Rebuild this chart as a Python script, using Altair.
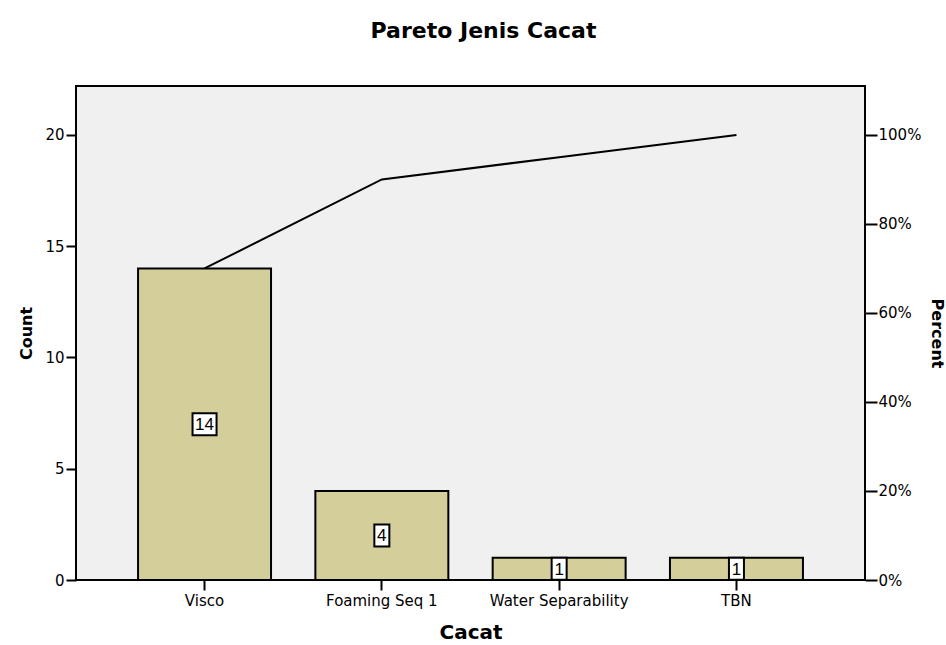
import altair as alt
import pandas as pd

categories = ["Visco", "Foaming Seq 1", "Water Separability", "TBN"]
counts = [14, 4, 1, 1]
count_ticks = [0, 5, 10, 15, 20]
pct_ticks = [0, 20, 40, 60, 80, 100]

total = sum(counts)
cum = []
running = 0
for c in counts:
    running += c
    cum.append(running / total * 100)

df = pd.DataFrame({
    "Cacat": categories,
    "Count": counts,
    "Mid": [c / 2 for c in counts],
    "CumPct": cum,
})

FONT = "DejaVu Sans"

xenc = alt.X(
    "Cacat:N",
    sort=categories,
    scale=alt.Scale(paddingInner=0.25, paddingOuter=0.35),
    axis=alt.Axis(
        title="Cacat", labelAngle=0, tickSize=10, tickColor="black", tickWidth=2,
        labelFont=FONT, labelFontSize=15, labelColor="black", labelPadding=3,
        titleFont=FONT, titleFontSize=20, titleFontWeight="bold", titleColor="black",
        titlePadding=14, domain=False, bandPosition=0.5,
    ),
)

yscale = alt.Scale(domain=[0, 22.2], nice=False, zero=True)
yaxis = alt.Axis(
    title="Count", orient="left", values=count_ticks, tickSize=10, tickColor="black",
    tickWidth=2, labelFont=FONT, labelFontSize=15, labelColor="black", labelPadding=2,
    titleFont=FONT, titleFontSize=16, titleFontWeight="bold", titleColor="black",
    titlePadding=10, domain=False, grid=False,
)

base = alt.Chart(df)

bars = base.mark_bar(fill="#D3CE9A", stroke="black", strokeWidth=2).encode(
    x=xenc,
    y=alt.Y("Count:Q", scale=yscale, axis=yaxis),
)

box2 = base.transform_filter("datum.Count >= 10").mark_bar(
    width=24, fill="white", stroke="black", strokeWidth=2, yOffset=-11, y2Offset=11
).encode(x=alt.X("Cacat:N", sort=categories), y=alt.Y("Mid:Q"), y2="Mid:Q")

box1 = base.transform_filter("datum.Count < 10").mark_bar(
    width=15, fill="white", stroke="black", strokeWidth=2, yOffset=-11, y2Offset=11
).encode(x=alt.X("Cacat:N", sort=categories), y=alt.Y("Mid:Q"), y2="Mid:Q")

labels = base.mark_text(
    font="Liberation Sans", fontSize=17, color="black", baseline="middle", align="center", dy=1
).encode(x=alt.X("Cacat:N", sort=categories), y=alt.Y("Mid:Q"), text="Count:Q")

line = base.mark_line(color="black", strokeWidth=2).encode(
    x=alt.X("Cacat:N", sort=categories),
    y=alt.Y(
        "CumPct:Q",
        scale=alt.Scale(domain=[0, 111], nice=False),
        axis=alt.Axis(
            title="Percent", orient="right", values=pct_ticks, labelExpr="datum.value + '%'",
            tickSize=12, tickColor="black", tickWidth=2, labelFont=FONT, labelFontSize=15,
            labelColor="black", labelPadding=1, titleFont=FONT, titleFontSize=16,
            titleFontWeight="bold", titleColor="black", titlePadding=8, domain=False, grid=False,
        ),
    ),
)

chart = alt.layer(
    alt.layer(bars, box2, box1, labels),
    line,
).resolve_scale(y="independent").properties(
    width=789,
    height=494,
    autosize=alt.AutoSizeParams(type="none"),
    padding={"left": 76, "top": 86, "right": 81, "bottom": 65},
    background="white",
    title=alt.TitleParams(
        "Pareto Jenis Cacat", font=FONT, fontSize=22, fontWeight="bold", color="black",
        anchor="middle", dx=13, baseline="alphabetic", offset=26,
    ),
).configure_view(fill="#F0F0F0", stroke="black", strokeWidth=2)

chart.save("out.html", embed_options={"renderer": "svg", "actions": False})
